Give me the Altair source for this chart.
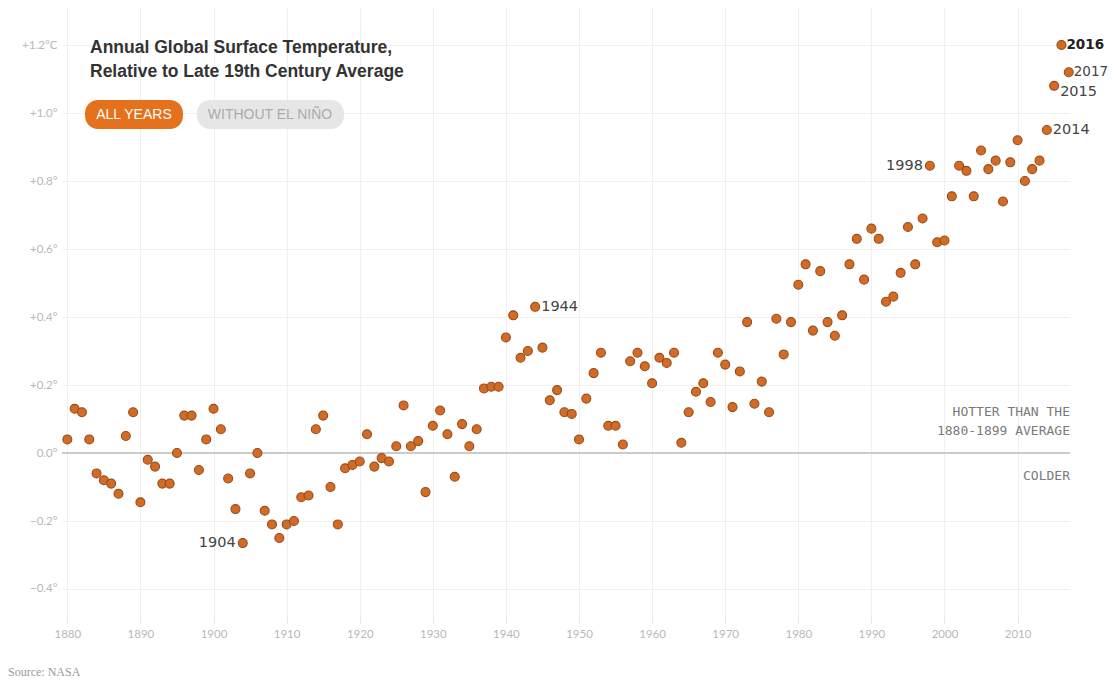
import altair as alt
import pandas as pd

# ---------------- data ----------------
years = list(range(1880, 2018))
anomaly = [
    0.04, 0.13, 0.12, 0.04, -0.06, -0.08, -0.09, -0.12, 0.05, 0.12,       # 1880s
    -0.145, -0.02, -0.04, -0.09, -0.09, 0.00, 0.11, 0.11, -0.05, 0.04,    # 1890s
    0.13, 0.07, -0.075, -0.165, -0.265, -0.06, 0.00, -0.17, -0.21, -0.25, # 1900s
    -0.21, -0.20, -0.13, -0.125, 0.07, 0.11, -0.10, -0.21, -0.045, -0.035,# 1910s
    -0.025, 0.055, -0.04, -0.015, -0.025, 0.02, 0.14, 0.02, 0.035, -0.115,# 1920s
    0.08, 0.125, 0.055, -0.07, 0.085, 0.02, 0.07, 0.19, 0.195, 0.195,     # 1930s
    0.34, 0.405, 0.28, 0.30, 0.43, 0.31, 0.155, 0.185, 0.12, 0.115,       # 1940s
    0.04, 0.16, 0.235, 0.295, 0.08, 0.08, 0.025, 0.27, 0.295, 0.255,      # 1950s
    0.205, 0.28, 0.265, 0.295, 0.03, 0.12, 0.18, 0.205, 0.15, 0.295,      # 1960s
    0.26, 0.135, 0.24, 0.385, 0.145, 0.21, 0.12, 0.395, 0.29, 0.385,      # 1970s
    0.495, 0.555, 0.36, 0.535, 0.385, 0.345, 0.405, 0.555, 0.63, 0.51,    # 1980s
    0.66, 0.63, 0.445, 0.46, 0.53, 0.665, 0.555, 0.69, 0.845, 0.62,       # 1990s
    0.625, 0.755, 0.845, 0.83, 0.755, 0.89, 0.835, 0.86, 0.74, 0.855,     # 2000s
    0.92, 0.80, 0.835, 0.86, 0.95, 1.08, 1.20, 1.12,                      # 2010s
]
x_ticks = list(range(1880, 2011, 10))
y_ticks = [-0.4, -0.2, 0.0, 0.2, 0.4, 0.6, 0.8, 1.0, 1.2]
labels_left_years = [1904, 1998]
labels_right_years = [1944, 2014]
labels_edge_years = [2017]
label_below_years = [2015]
label_bold_years = [2016]

title_lines = ["Annual Global Surface Temperature,", "Relative to Late 19th Century Average"]
button_on = "ALL YEARS"
button_off = "WITHOUT EL NIÑO"
hotter_lines = ["HOTTER THAN THE", "1880-1899 AVERAGE"]
colder_text = "COLDER"
source_text = "Source: NASA"

# ---------------- tables ----------------
df = pd.DataFrame({"year": years, "anomaly": anomaly})
df["label"] = df["year"].astype(str)
zero_df = pd.DataFrame({"year": [1880], "anomaly": [0.0]})

W, H = 1008, 607

x_enc = alt.X(
    "year:Q",
    scale=alt.Scale(domain=[1879.27, 2017.17], nice=False, zero=False),
    axis=alt.Axis(
        values=x_ticks, format="d", title=None, grid=True, gridColor="#efefef",
        gridWidth=1, domain=False, tickColor="#e6e6e6", tickSize=8,
        labelColor="#b8b8b8", labelFont="Lato", labelFontSize=11.5, labelPadding=5,
    ),
)
y_enc = alt.Y(
    "anomaly:Q",
    scale=alt.Scale(domain=[-0.4765, 1.309], nice=False, zero=False),
    axis=alt.Axis(
        values=y_ticks, title=None, grid=True, gridColor="#efefef", gridWidth=1,
        domain=False, ticks=False, labelColor="#b8b8b8", labelFont="Lato",
        labelFontSize=11.5, labelPadding=5,
        labelExpr="datum.value == 1.2 ? '+1.2°C' : (datum.value > 0.001 ? '+' + format(datum.value, '.1f') + '°' : format(datum.value, '.1f') + '°')",
    ),
)

base = alt.Chart(df)

zero_rule = alt.Chart(zero_df).mark_rule(color="#cbcbcb", strokeWidth=2).encode(
    y=y_enc, x=alt.value(0), x2=alt.value(W)
)

points = base.mark_circle(
    size=80, color="#d06c27", stroke="#9b4a17", strokeWidth=1.1, opacity=1
).encode(x=x_enc, y=y_enc)

txt_common = dict(font="DejaVu Sans", fontSize=14.5, color="#444")
lab_left = base.transform_filter(
    alt.FieldOneOfPredicate(field="year", oneOf=labels_left_years)
).mark_text(align="right", baseline="middle", dx=-7, **txt_common).encode(
    x=x_enc, y=y_enc, text="label:N")
lab_right = base.transform_filter(
    alt.FieldOneOfPredicate(field="year", oneOf=labels_right_years)
).mark_text(align="left", baseline="middle", dx=6, **txt_common).encode(
    x=x_enc, y=y_enc, text="label:N")
lab_edge = base.transform_filter(
    alt.FieldOneOfPredicate(field="year", oneOf=labels_edge_years)
).mark_text(align="left", baseline="middle", dx=5, font="DejaVu Sans",
            fontSize=13.5, color="#444").encode(
    x=x_enc, y=y_enc, text="label:N")
lab_below = base.transform_filter(
    alt.FieldOneOfPredicate(field="year", oneOf=label_below_years)
).mark_text(align="left", baseline="middle", dx=6, dy=6, **txt_common).encode(
    x=x_enc, y=y_enc, text="label:N")
lab_bold = base.transform_filter(
    alt.FieldOneOfPredicate(field="year", oneOf=label_bold_years)
).mark_text(align="left", baseline="middle", dx=5, font="DejaVu Sans",
            fontSize=13.5, fontWeight="bold", color="#222").encode(
    x=x_enc, y=y_enc, text="label:N")

one = pd.DataFrame({"k": [0]})

title1 = alt.Chart(one).mark_text(
    text=title_lines[0], align="left", baseline="middle", font="Liberation Sans",
    fontSize=17.5, fontWeight="bold", color="#333"
).encode(x=alt.value(28), y=alt.value(40))
title2 = alt.Chart(one).mark_text(
    text=title_lines[1], align="left", baseline="middle", font="Liberation Sans",
    fontSize=17.5, fontWeight="bold", color="#333"
).encode(x=alt.value(28), y=alt.value(64))

btn1 = alt.Chart(one).mark_rect(color="#e5711d", cornerRadius=13).encode(
    x=alt.value(23), x2=alt.value(121), y=alt.value(92), y2=alt.value(121))
btn1_t = alt.Chart(one).mark_text(
    text=button_on, align="center", baseline="middle", font="Liberation Sans",
    fontSize=14, color="white").encode(x=alt.value(72), y=alt.value(107))
btn2 = alt.Chart(one).mark_rect(color="#e6e6e6", cornerRadius=13).encode(
    x=alt.value(135), x2=alt.value(282), y=alt.value(92), y2=alt.value(121))
btn2_t = alt.Chart(one).mark_text(
    text=button_off, align="center", baseline="middle", font="Liberation Sans",
    fontSize=14, color="#ababab").encode(x=alt.value(208), y=alt.value(107))

mono = dict(font="DejaVu Sans Mono", fontSize=13, color="#7a7a7a", align="right", baseline="middle")
hot1 = alt.Chart(one).mark_text(text=hotter_lines[0], **mono).encode(x=alt.value(W), y=alt.value(404))
hot2 = alt.Chart(one).mark_text(text=hotter_lines[1], **mono).encode(x=alt.value(W), y=alt.value(423))
cold = alt.Chart(one).mark_text(text=colder_text, **mono).encode(x=alt.value(W), y=alt.value(468))

source = alt.Chart(one).mark_text(
    text=source_text, align="left", baseline="alphabetic", font="Liberation Serif",
    fontSize=12, color="#9a9a9a").encode(x=alt.value(-54), y=alt.value(668))

chart = alt.layer(
    zero_rule, btn1, btn2, btn1_t, btn2_t, title1, title2, hot1, hot2, cold,
    points, lab_left, lab_right, lab_edge, lab_below, lab_bold, source,
).properties(
    width=W, height=H,
    autosize=alt.AutoSizeParams(type="none"),
    padding={"left": 54, "top": 0, "right": 40, "bottom": 66},
).configure_view(stroke=None)

chart.save("out.html", embed_options={"renderer": "svg", "actions": False})
